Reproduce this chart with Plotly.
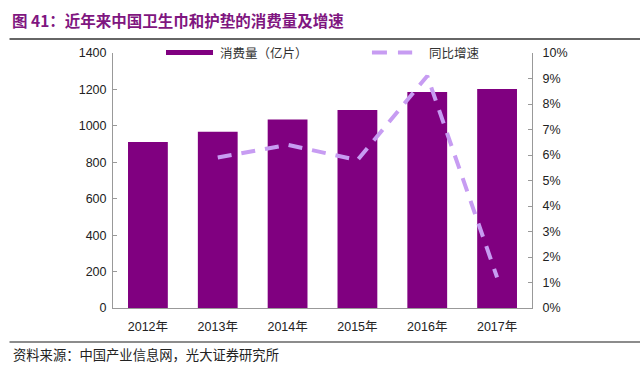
import plotly.graph_objects as go

years = ["2012年", "2013年", "2014年", "2015年", "2016年", "2017年"]
consumption = [912, 968, 1035, 1087, 1186, 1203]
growth_years = ["2013年", "2014年", "2015年", "2016年", "2017年"]
growth = [0.059, 0.064, 0.058, 0.091, 0.012]

left_ticks = [0, 200, 400, 600, 800, 1000, 1200, 1400]
right_ticks = [i / 100 for i in range(0, 11)]

BAR_NAME = "消费量（亿片）"
LINE_NAME = "同比增速"
BAR_COLOR = "#800080"
LINE_COLOR = "#C79CF2"

FONT = "Liberation Sans, Arial, Noto Sans CJK SC, sans-serif"
CJK = "Noto Sans CJK SC, sans-serif"

fig = go.Figure()
fig.add_trace(go.Bar(
    x=years, y=consumption, name=BAR_NAME,
    marker=dict(color=BAR_COLOR, line=dict(width=0)),
    yaxis="y",
))
fig.add_trace(go.Scatter(
    x=growth_years, y=growth, name=LINE_NAME, mode="lines",
    line=dict(color=LINE_COLOR, width=4, dash="14px,10px"),
    yaxis="y2",
))

fig.update_layout(
    width=640, height=376,
    margin=dict(l=113, r=108, t=53, b=68, autoexpand=False),
    paper_bgcolor="white", plot_bgcolor="white",
    font=dict(family=FONT, size=12.5, color="#222"),
    bargap=0.43,
    showlegend=False,
    xaxis=dict(
        type="category", showline=True, linecolor="#999", linewidth=1,
        ticks="", showgrid=False, ticklabelstandoff=7,
        tickfont=dict(family=FONT, size=12.5, color="#222"),
    ),
    yaxis=dict(
        range=[0, 1400], tickvals=left_ticks, showline=True, linecolor="#999",
        linewidth=1, ticks="inside", ticklen=4, tickcolor="#999",
        ticklabelstandoff=3,
        showgrid=False, zeroline=False, tickfont=dict(size=12.5, color="#222"),
    ),
    yaxis2=dict(
        range=[0, 0.10], tickvals=right_ticks, tickformat=".0%",
        overlaying="y", side="right", showline=True, linecolor="#999",
        linewidth=1, ticks="inside", ticklen=4, tickcolor="#999",
        ticklabelstandoff=7,
        showgrid=False, zeroline=False, tickfont=dict(size=12.5, color="#222"),
    ),
    shapes=[
        # title rule and footer rule
        dict(type="line", xref="paper", yref="paper", x0=-0.247, x1=1.26,
             y0=1.055, y1=1.055, line=dict(color="#333", width=1.5)),
        dict(type="line", xref="paper", yref="paper", x0=-0.247, x1=1.26,
             y0=-0.133, y1=-0.133, line=dict(color="#666", width=1.5)),
        # legend symbols
        dict(type="rect", xref="paper", yref="paper", x0=0.1265, x1=0.2387,
             y0=0.992, y1=1.0118, fillcolor=BAR_COLOR, line=dict(width=0)),
        dict(type="line", xref="paper", yref="paper", x0=0.618, x1=0.714,
             y0=1.002, y1=1.002,
             line=dict(color=LINE_COLOR, width=4, dash="15px,11px")),
    ],
    annotations=[
        dict(text="<b>图 41：近年来中国卫生巾和护垫的消费量及增速</b>",
             xref="paper", yref="paper", x=-0.245, y=1.129,
             xanchor="left", yanchor="middle", showarrow=False,
             font=dict(family=CJK, size=15.5, color="#7F1680")),
        dict(text="资料来源：中国产业信息网，光大证券研究所",
             xref="paper", yref="paper", x=-0.243, y=-0.184,
             xanchor="left", yanchor="middle", showarrow=False,
             font=dict(family=CJK, size=13.3, color="#222")),
        dict(text=BAR_NAME, xref="paper", yref="paper", x=0.2506, y=1.002,
             xanchor="left", yanchor="middle", showarrow=False,
             font=dict(family=CJK, size=12.5, color="#333")),
        dict(text=LINE_NAME, xref="paper", yref="paper", x=0.749, y=1.002,
             xanchor="left", yanchor="middle", showarrow=False,
             font=dict(family=CJK, size=12.5, color="#333")),
    ],
)

fig.write_html(
    "out.html",
    config={"displayModeBar": False},
    post_script="document.body.style.margin='0';document.body.style.padding='0';",
)
